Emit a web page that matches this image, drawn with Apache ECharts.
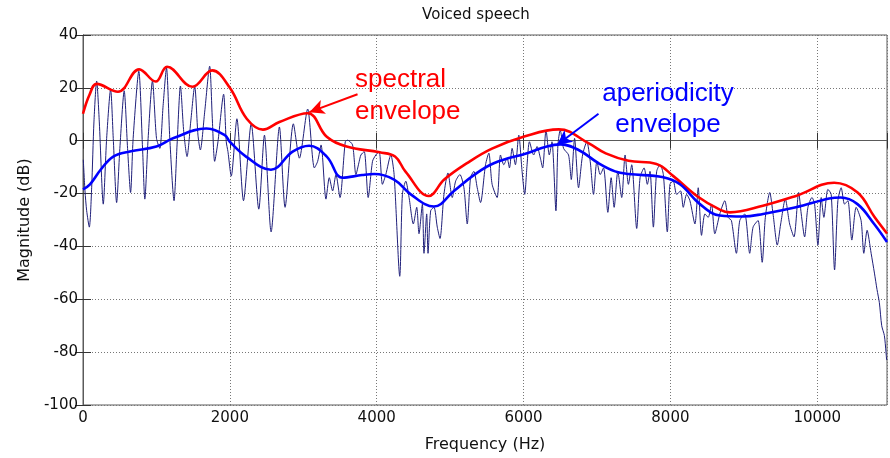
<!DOCTYPE html>
<html>
<head>
<meta charset="utf-8">
<script src="https://cdn.jsdelivr.net/npm/echarts@6/dist/echarts.min.js"></script>
<style>
  html, body { margin: 0; padding: 0; background: #fff; }
  #chart { width: 890px; height: 458px; }
</style>
</head>
<body>
<div id="chart"></div>
<script>
// Axis ranges and tick labels
const freqTicks = [0, 2000, 4000, 6000, 8000, 10000];
const magTicks = [-100, -80, -60, -40, -20, 0, 20, 40];

// Measured magnitude spectrum of a voiced frame: [frequency Hz, magnitude dB]
const spectrum = [
  [4,-7.2],[27,-19],[50,-26.5],[86,-32.7],[118,-17.8],[149,7.1],[186,22.6],[222,7.1],[276,-24],
  [322,0.9],[376,19.5],[412,0.9],[458,-23.4],[502,-2.9],[561,18.9],[607,-2.9],[648,-19.6],[683,0.9],
  [760,26.3],[811,-2.9],[842,-22.1],[887,0.9],[946,22.6],[1001,0.9],[1046,-2.9],[1091,13.3],[1137,27.6],
  [1182,0.9],[1240,-22.7],[1281,-1.6],[1327,20.7],[1372,3.4],[1417,-6],[1467,7.1],[1521,20.7],[1566,2.1],
  [1598,-3.5],[1657,10.8],[1725,28.2],[1761,8.3],[1793,-7.8],[1838,-0.4],[1915,17.6],[1951,-0.4],
  [1974,-4.1],[2019,-13.4],[2096,8.3],[2186,-22.7],[2291,6.4],[2394,-25.9],[2471,2.1],[2562,-34.5],
  [2675,5.2],[2752,-25.2],[2865,6.4],[2947,-6.6],[3060,12],[3151,-10.3],[3196,-7.8],[3242,-1.6],
  [3309,-22.1],[3354,-14],[3400,-19],[3445,-12.8],[3500,-21.5],[3572,-0.4],[3603,0.2],[3671,-1.6],
  [3717,-12.8],[3762,-7.8],[3785,-5.4],[3830,-4.1],[3884,-21.5],[3943,-7.8],[3988,-5.4],[4033,-4.1],
  [4078,-16.5],[4124,-12.8],[4192,-5.4],[4237,-12.8],[4314,-51.3],[4350,-20.3],[4396,-15.3],[4441,-21.5],
  [4499,-31.5],[4545,-25.2],[4576,-35.2],[4622,-24],[4644,-42.6],[4681,-27.7],[4699,-42.6],[4735,-26.5],
  [4780,-25.2],[4825,-32.7],[4862,-37],[4916,-20.3],[4970,-12.2],[5029,-21.5],[5075,-15.3],[5133,-12.8],
  [5188,-17.8],[5233,-31.5],[5278,-14],[5323,-11.6],[5369,-17.8],[5414,-23.4],[5482,-9.1],[5527,-4.7],
  [5572,-16.5],[5640,-21.5],[5686,-5.4],[5731,-9.1],[5776,-6.6],[5808,-10.3],[5844,-2.9],[5889,-9.1],
  [5935,2.1],[5980,-11.6],[6016,-20.3],[6048,-9.1],[6080,-0.4],[6138,-5.4],[6184,-2.2],[6229,-6.6],
  [6260,-10.3],[6306,4],[6351,-5.4],[6387,-0.4],[6441,-26.5],[6468,-1.6],[6500,4],[6545,-2.9],
  [6613,-5.4],[6650,-14.7],[6695,0.9],[6749,-17.8],[6804,-5.4],[6862,-0.4],[6908,-7.8],[6953,-20.3],
  [6999,-7.8],[7044,-12.8],[7089,-10.3],[7148,-27.1],[7193,-14],[7234,-25.2],[7284,-11.6],[7337,-21.5],
  [7383,-5.4],[7428,-16.5],[7473,-9.1],[7541,-33.2],[7587,-14],[7642,-10.3],[7686,-16.5],[7722,-11.6],
  [7768,-32.7],[7813,-11.6],[7859,-9.1],[7904,-12.8],[7958,-34.5],[7994,-16.5],[8039,-15.3],[8085,-20.3],
  [8139,-19],[8175,-25.2],[8221,-20.3],[8266,-22.7],[8334,-31.5],[8379,-17.8],[8424,-35.8],[8470,-27.7],
  [8515,-29],[8560,-24],[8605,-35.2],[8673,-27.7],[8741,-22.7],[8786,-29],[8831,-30.2],[8899,-42.6],
  [8945,-30.2],[9012,-27.7],[9080,-42.6],[9126,-32.7],[9194,-30.2],[9250,-46],[9293,-29],[9353,-19.6],
  [9398,-27.7],[9456,-39.5],[9502,-31.5],[9565,-22.1],[9624,-31.5],[9683,-36.4],[9747,-19.6],[9782,-27.7],
  [9828,-36.4],[9873,-25.2],[9928,-21.5],[9964,-24],[10009,-39.5],[10054,-21.5],[10090,-29],[10145,-18.4],
  [10190,-20.3],[10236,-48.9],[10281,-22.7],[10326,-17.8],[10372,-24],[10417,-22.7],[10471,-37.6],
  [10530,-25.2],[10597,-30.2],[10634,-42.6],[10679,-33.9],[10734,-42.6],[10779,-50.1],[10814,-56.3],
  [10846,-61.3],[10878,-70],[10914,-73.7],[10936,-79.9],[10945,-83]
];

// Smooth spectral envelope (red)
const spectralEnvelope = [
  [0,10.2],[90,17.5],[186,21.5],[475,18.5],[765,27],[990,22.4],[1145,28],[1490,20.4],[1760,26.6],
  [2000,20],[2230,8.3],[2450,4.2],[2675,7.1],[3060,10.4],[3320,1.5],[3590,-2.2],[4040,-4.4],[4250,-6],
  [4390,-11.6],[4710,-20.9],[4920,-14.7],[5230,-8.5],[5570,-3],[6020,1.7],[6480,4.3],[6890,-1],
  [7120,-4.8],[7430,-7.6],[7810,-8.8],[8040,-13.4],[8360,-20.9],[8680,-26.2],[8810,-27.1],[9260,-24.6],
  [9710,-20.9],[10230,-15.9],[10550,-19.6],[10780,-28.9],[10950,-35.1]
];

// Smooth aperiodicity envelope (blue)
const aperiodicityEnvelope = [
  [0,-18.4],[95,-16.5],[240,-11],[412,-6],[638,-4.1],[1000,-2.2],[1226,0.9],[1680,4.6],[1930,2.1],
  [2000,-0.4],[2220,-6],[2560,-11],[2855,-4.1],[3080,-1.9],[3320,-6],[3535,-14],[3800,-13],[3965,-12.6],
  [4237,-14.7],[4464,-20.3],[4780,-24.9],[5052,-19],[5323,-13],[5595,-8.5],[6047,-4.7],[6318,-2.2],
  [6500,-1.4],[6750,-3.5],[7021,-8.5],[7247,-11.6],[7430,-12.6],[7903,-13.8],[8130,-16.5],[8402,-24],
  [8673,-28.3],[8990,-28.7],[9262,-27.7],[9710,-25.2],[10163,-21.9],[10320,-21.5],[10548,-24],
  [10775,-31.5],[10950,-38.3]
];

// Annotation arrows: [start, tip] in data coordinates
const spectralArrow = [[3739, 17.6], [3083, 10.8]];
const aperiodicityArrow = [[7021, 10.2], [6455, -1.6]];

const X_MAX = 10950;
const axisFont = 'DejaVu Sans';
const frameColor = '#5a5a5a';

const chart = echarts.init(document.getElementById('chart'), null, { renderer: 'canvas' });

const gridLine = { show: true, lineStyle: { color: '#777', width: 1, type: [1, 2] } };

chart.setOption({
  animation: false,
  backgroundColor: '#fff',
  grid: { left: 83, right: 1, top: 35, bottom: 47, show: true, borderColor: frameColor, borderWidth: 1 },
  xAxis: [{
    type: 'value', min: freqTicks[0], max: X_MAX, interval: 2000,
    name: 'Frequency (Hz)', nameLocation: 'middle', nameGap: 32,
    nameTextStyle: { fontFamily: axisFont, fontSize: 16, color: '#111' },
    axisLine: { show: true, lineStyle: { color: frameColor, width: 1 } },
    axisTick: { show: true, inside: true, length: 8, lineStyle: { color: '#333' } },
    axisLabel: { fontFamily: axisFont, fontSize: 15, color: '#111', margin: 6,
      formatter: v => freqTicks.includes(v) ? String(v) : '' },
    splitLine: gridLine
  }, {
    type: 'value', position: 'top', min: freqTicks[0], max: X_MAX, interval: 2000,
    axisLine: { show: true, lineStyle: { color: frameColor, width: 1 } },
    axisTick: { show: true, inside: true, length: 8, lineStyle: { color: '#333' } },
    axisLabel: { show: false }, splitLine: { show: false }
  }],
  yAxis: [{
    type: 'value', min: magTicks[0], max: magTicks[magTicks.length - 1], interval: 20,
    name: 'Magnitude (dB)', nameLocation: 'middle', nameGap: 50, nameRotate: 90,
    nameTextStyle: { fontFamily: axisFont, fontSize: 16, color: '#111' },
    axisLine: { show: true, lineStyle: { color: frameColor, width: 1 } },
    axisTick: { show: true, inside: true, length: 8, lineStyle: { color: '#333' } },
    axisLabel: { fontFamily: axisFont, fontSize: 15, color: '#111', margin: 5 },
    splitLine: gridLine
  }, {
    type: 'value', position: 'right', min: magTicks[0], max: magTicks[magTicks.length - 1], interval: 20,
    axisLine: { show: true, lineStyle: { color: frameColor, width: 1 } },
    axisTick: { show: true, inside: true, length: 8, lineStyle: { color: '#333' } },
    axisLabel: { show: false }, splitLine: { show: false }
  }],
  series: [
    {
      name: 'spectrum', type: 'line', data: spectrum, xAxisIndex: 0, yAxisIndex: 0,
      showSymbol: false, smooth: 0.25, z: 2,
      lineStyle: { color: '#1f1f7a', width: 1 }
    },
    {
      name: 'spectral envelope', type: 'line', data: spectralEnvelope, showSymbol: false,
      smooth: 0.4, z: 3, lineStyle: { color: '#ff0000', width: 2.6 },
      markLine: {
        silent: true, symbol: ['none', 'arrow'], symbolSize: [11, 15], animation: false,
        label: { show: false },
        lineStyle: { color: '#ff0000', width: 2, type: 'solid' },
        data: [[{ coord: spectralArrow[0] }, { coord: spectralArrow[1] }]]
      }
    },
    {
      name: 'aperiodicity envelope', type: 'line', data: aperiodicityEnvelope, showSymbol: false,
      smooth: 0.4, z: 3, lineStyle: { color: '#0000ff', width: 2.6 },
      markLine: {
        silent: true, symbol: ['none', 'arrow'], symbolSize: [11, 15], animation: false,
        label: { show: false },
        lineStyle: { color: '#0000ff', width: 2, type: 'solid' },
        data: [[{ coord: aperiodicityArrow[0] }, { coord: aperiodicityArrow[1] }]]
      }
    }
  ],
  graphic: [
    {
      type: 'text', x: 476, y: 8, z: 10,
      style: { text: 'Voiced speech', fill: '#111', font: '15px "DejaVu Sans", sans-serif', align: 'center' }
    },
    {
      type: 'text', left: 355, top: 64, z: 10,
      style: { text: 'spectral\nenvelope', fill: '#ff0000', font: '26px "Liberation Sans", Arial, sans-serif',
        lineHeight: 32, align: 'left' }
    },
    {
      type: 'text', x: 668, y: 78, z: 10,
      style: { text: 'aperiodicity\nenvelope', fill: '#0000ff', font: '26px "Liberation Sans", Arial, sans-serif',
        lineHeight: 31, align: 'center' }
    }
  ]
});
</script>
</body>
</html>
